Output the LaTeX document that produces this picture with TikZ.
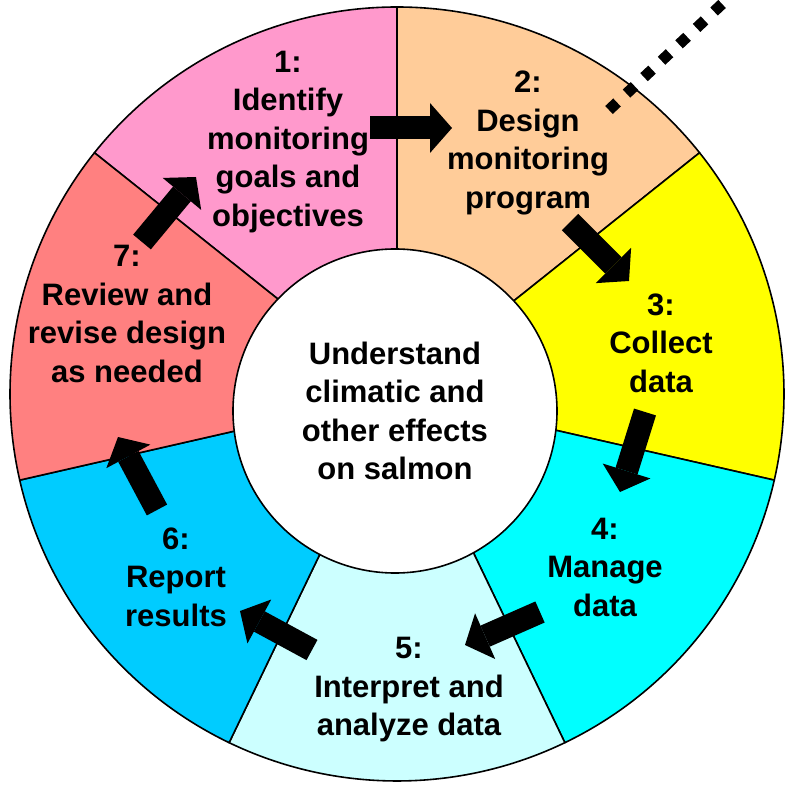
\documentclass[tikz,border=0pt]{standalone}
\usepackage{fontspec}
\setmainfont{Liberation Sans}
\usetikzlibrary{arrows.meta, positioning, calc}

\definecolor{stage_pink}{HTML}{FF99CC}
\definecolor{stage_peach}{HTML}{FFCC99}
\definecolor{stage_yellow}{HTML}{FFFF00}
\definecolor{stage_cyan}{HTML}{00FFFF}
\definecolor{stage_lightcyan}{HTML}{CCFFFF}
\definecolor{stage_sky}{HTML}{00CCFF}
\definecolor{stage_salmon}{HTML}{FF8080}

\tikzstyle{sector} = [draw=black, line width=1.6pt, line join=round]
\tikzstyle{stage_text} = [align=center, inner sep=0pt, font=\bfseries\fontsize{31}{38.5}\selectfont]
\tikzstyle{hub} = [circle, draw=black, line width=1.6pt, fill=white, minimum size=324pt, inner sep=0pt]
\tikzstyle{arrow_block} = [line width=23pt, -{Triangle[length=22pt, width=50pt, line width=0pt]}]
\tikzstyle{arrow_dotted} = [line width=11pt, dash pattern=on 11pt off 13pt]

\begin{document}
\begin{tikzpicture}[x=1pt, y=1pt]

	\useasboundingbox (-397,-390) rectangle (389,394);

		% Coloured sectors of the wheel
		\filldraw [sector, fill=stage_pink] (0,0) -- (90:387) arc[start angle=90, end angle=141.43, radius=387pt] -- cycle;
		\filldraw [sector, fill=stage_peach] (0,0) -- (38.57:387) arc[start angle=38.57, end angle=90, radius=387pt] -- cycle;
		\filldraw [sector, fill=stage_yellow] (0,0) -- (-12.86:387) arc[start angle=-12.86, end angle=38.57, radius=387pt] -- cycle;
		\filldraw [sector, fill=stage_cyan] (0,0) -- (-64.29:387) arc[start angle=-64.29, end angle=-12.86, radius=387pt] -- cycle;
		\filldraw [sector, fill=stage_lightcyan] (0,0) -- (-115.71:387) arc[start angle=-115.71, end angle=-64.29, radius=387pt] -- cycle;
		\filldraw [sector, fill=stage_sky] (0,0) -- (-167.14:387) arc[start angle=-167.14, end angle=-115.71, radius=387pt] -- cycle;
		\filldraw [sector, fill=stage_salmon] (0,0) -- (141.43:387) arc[start angle=141.43, end angle=192.86, radius=387pt] -- cycle;

		% Centre of the wheel
		\node (goal) [hub, stage_text] at (-2,-17) {Understand\\climatic and\\other effects\\on salmon};

		% Stage labels
		\node (step_one) [stage_text] at (-109,252) {1:\\Identify\\monitoring\\goals and\\objectives};
		\node (step_two) [stage_text] at (131,251) {2:\\Design\\monitoring\\program};
		\node (step_three) [stage_text] at (264,51) {3:\\Collect\\data};
		\node (step_four) [stage_text] at (208,-173) {4:\\Manage\\data};
		\node (step_five) [stage_text] at (12,-296) {5:\\Interpret and\\analyze data};
		\node (step_six) [stage_text] at (-221,-183) {6:\\Report\\results};
		\node (step_seven) [stage_text] at (-270,80) {7:\\Review and\\revise design\\as needed};

		% Ends of the block arrows
		\coordinate (a12_start) at (-27,266);
		\coordinate (a12_end) at (55,266);
		\coordinate (a23_start) at (173,172);
		\coordinate (a23_end) at (232,113);
		\coordinate (a34_start) at (248,-18);
		\coordinate (a34_end) at (223,-98);
		\coordinate (a45_start) at (143,-218);
		\coordinate (a45_end) at (68,-251);
		\coordinate (a56_start) at (-85,-256);
		\coordinate (a56_end) at (-157,-217);
		\coordinate (a67_start) at (-240,-116);
		\coordinate (a67_end) at (-279,-43);
		\coordinate (a71_start) at (-255,152);
		\coordinate (a71_end) at (-201,217);

		% The arrows from one stage to the next
		\draw [arrow_block] (a12_start) -- (a12_end);
		\draw [arrow_block] (a23_start) -- (a23_end);
		\draw [arrow_block] (a34_start) -- (a34_end);
		\draw [arrow_block] (a45_start) -- (a45_end);
		\draw [arrow_block] (a56_start) -- (a56_end);
		\draw [arrow_block] (a67_start) -- (a67_end);
		\draw [arrow_block] (a71_start) -- (a71_end);

		% Dotted line leaving stage 2
		\coordinate (dots_start) at (212,284);
		\coordinate (dots_end) at (340,404);
		\draw [arrow_dotted] (dots_start) -- (dots_end);

\end{tikzpicture}
\end{document}
